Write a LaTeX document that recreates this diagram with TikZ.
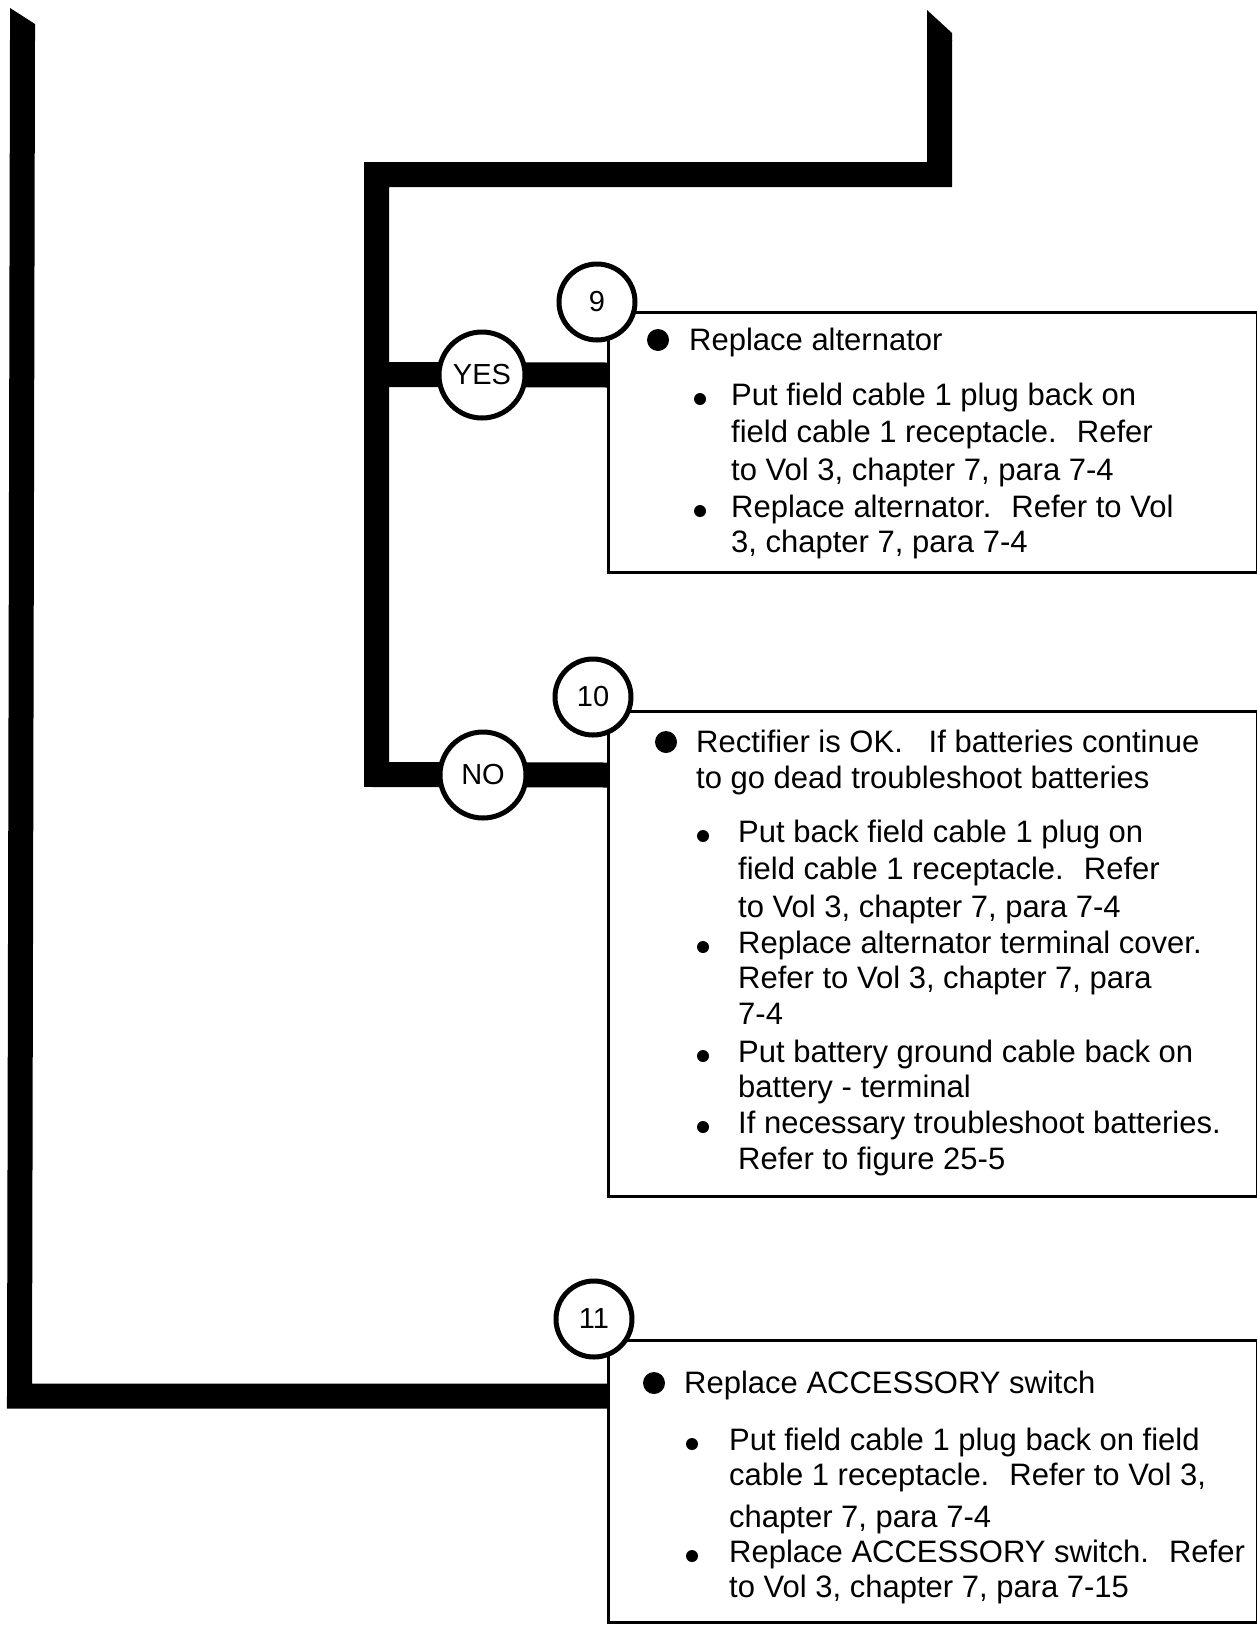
\documentclass[tikz,border=0pt]{standalone}
\usepackage{fontspec}
\setmainfont{Liberation Sans}
\usepackage{tikz}
\usetikzlibrary{positioning,calc}
\definecolor{ink}{RGB}{0,0,0}
\tikzset{
  bar/.style={line width=25pt,draw=ink},
  box/.style={draw=ink,line width=3pt,anchor=north west,minimum width=649pt,
    inner sep=0pt,outer sep=0pt},
  num/.style={circle,draw=ink,line width=5pt,fill=white,minimum size=76pt,
    inner sep=0pt,font=\fontsize{29}{30}\selectfont},
  ans/.style={num,minimum size=86pt},
  lead/.style={anchor=base west,inner sep=0pt,font=\fontsize{31}{36}\selectfont},
  bigdot/.style={circle,fill=ink,inner sep=0pt,minimum size=22pt},
  dot/.style={circle,fill=ink,inner sep=0pt,minimum size=12pt},
}
\begin{document}
\begin{tikzpicture}[x=1pt,y=-1pt]
  \useasboundingbox (0,0) rectangle (1256,1625);
  % step boxes
  \node[box,minimum height=260pt] (b9) at (608,312) {};
  \node[box,minimum height=485pt] (b10) at (608,711) {};
  \node[box,minimum height=282pt] (b11) at (608,1340) {};
  \coordinate (yes) at (482,375);
  \coordinate (no) at (483,775);
  \coordinate (low) at (19.5,1396);
  % trunks coming from the page above
  \fill[ink] (927,10) -- (952,33) -- (952,41) -- (927,41) -- cycle;
  \draw[bar] (939.5,40) -- (939.5,174.5) -- (376.5,174.5) -- (376.5,774.5)
    -- (b10.west |- no);
  \draw[bar] (376.5,374.5) -- (b9.west |- yes);
  \fill[ink] (10,8) -- (35,24) -- (35,41) -- (10,41) -- cycle;
  \draw[bar] (22.5,40) -- (low) -- (b11.west |- low);
  % answers and step numbers
  \node[ans] (a-yes) at (yes) {YES};
  \node[ans] (a-no) at (no) {NO};
  \node[num] (n9) at (597,302) {9};
  \node[num] (n10) at (593,697) {10};
  \node[num] (n11) at (594,1319) {11};
  % step 9
  \node[bigdot] (d9) at (658,340) {};
  \node[lead] (t9) at (689,350) {Replace alternator};
  \foreach \y/\t in {405/{Put field cable 1 plug back on},
      442/{field cable 1 receptacle.~ Refer},
      480/{to Vol 3, chapter 7, para 7-4},
      517/{Replace alternator.~ Refer to Vol},
      552/{3, chapter 7, para 7-4}}
    \node[lead] (s9-\y) at (731,\y) {\t};
  \foreach \y in {405,517}
    \node[dot] (e9-\y) at (700,\y-6) {};
  % step 10
  \node[bigdot] (d10) at (666,742) {};
  \node[lead] (t10a) at (696,752) {Rectifier is OK.~~ If batteries continue};
  \node[lead] (t10b) at (696,788) {to go dead troubleshoot batteries};
  \foreach \y/\t in {842/{Put back field cable 1 plug on},
      879/{field cable 1 receptacle.~ Refer},
      917/{to Vol 3, chapter 7, para 7-4},
      953/{Replace alternator terminal cover.},
      988/{Refer to Vol 3, chapter 7, para},
      1024/{7-4},
      1062/{Put battery ground cable back on},
      1097/{battery - terminal},
      1133/{If necessary troubleshoot batteries.},
      1169/{Refer to figure 25-5}}
    \node[lead] (s10-\y) at (738,\y) {\t};
  \foreach \y in {842,953,1062,1133}
    \node[dot] (e10-\y) at (703,\y-6) {};
  % step 11
  \node[bigdot] (d11) at (654,1383) {};
  \node[lead] (t11) at (684,1393) {Replace ACCESSORY switch};
  \foreach \y/\t in {1450/{Put field cable 1 plug back on field},
      1485/{cable 1 receptacle.~ Refer to Vol 3,},
      1527/{chapter 7, para 7-4},
      1562/{Replace ACCESSORY switch.~ Refer},
      1597/{to Vol 3, chapter 7, para 7-15}}
    \node[lead] (s11-\y) at (729,\y) {\t};
  \foreach \y in {1450,1562}
    \node[dot] (e11-\y) at (692,\y-6) {};
\end{tikzpicture}
\end{document}
